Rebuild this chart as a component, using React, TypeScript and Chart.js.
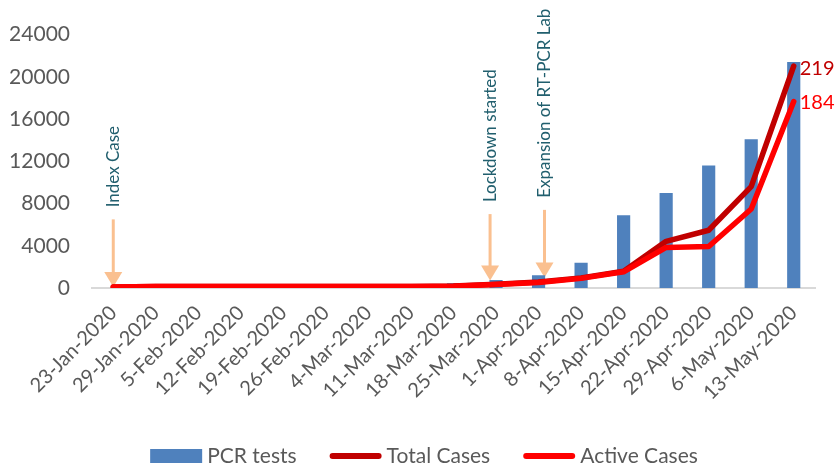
import React, { useEffect, useRef } from 'react';
import { Chart, registerables } from 'chart.js';

Chart.register(...registerables);

const categories = [
  '23-Jan-2020', '29-Jan-2020', '5-Feb-2020', '12-Feb-2020', '19-Feb-2020', '26-Feb-2020',
  '4-Mar-2020', '11-Mar-2020', '18-Mar-2020', '25-Mar-2020', '1-Apr-2020', '8-Apr-2020',
  '15-Apr-2020', '22-Apr-2020', '29-Apr-2020', '6-May-2020', '13-May-2020',
];
const pcrTests = [0, 0, 0, 0, 0, 0, 300, 380, 450, 750, 1200, 2400, 6900, 9000, 11600, 14100, 21400];
const totalCases = [1, 1.5, 1.5, 1.5, 1.5, 1.5, 1.5, 1.5, 2, 3.8, 6, 10, 16.5, 46, 57, 100, 219];
const activeCases = [1, 1.5, 1.5, 1.5, 1.5, 1.5, 1.5, 1.5, 1.8, 3.5, 5.5, 9.5, 16, 40, 41, 78, 184];
const seriesNames = ['PCR tests', 'Total Cases', 'Active Cases'];
const yTickMax = 24000;
const yTickStep = 4000;
const casesAxisMax = 250;

const annotationTexts = ['Index Case', 'Lockdown started', 'Expansion of RT-PCR Lab'];
const annotationPositions = [0, 8.86, 10.14];
const annotationArrowTop = [6500, 7000, 7400];
const annotationArrowTip = [100, 700, 1000];

const FONT = 'Lato, "Open Sans", sans-serif';
const COLORS = {
  bar: '#4F81BD',
  total: '#C00000',
  active: '#FF0000',
  tick: '#595959',
  axis: '#D9D9D9',
  arrow: '#FAC090',
  note: '#215F6E',
};

const annotationPlugin = {
  id: 'annotations',
  beforeDatasetsDraw(chart: any) {
    const { ctx } = chart;
    const x = chart.scales.x;
    const y = chart.scales.y;
    const step = x.getPixelForValue(1) - x.getPixelForValue(0);
    annotationTexts.forEach((t, i) => {
      const pos = annotationPositions[i];
      const base = Math.floor(pos);
      const px = x.getPixelForValue(base) + (pos - base) * step;
      const top = y.getPixelForValue(annotationArrowTop[i]);
      const tip = y.getPixelForValue(annotationArrowTip[i]);
      const headH = 15;
      const headW = 9;
      ctx.save();
      ctx.strokeStyle = COLORS.arrow;
      ctx.fillStyle = COLORS.arrow;
      ctx.lineWidth = 3;
      ctx.beginPath();
      ctx.moveTo(px, top);
      ctx.lineTo(px, tip - headH + 1);
      ctx.stroke();
      ctx.beginPath();
      ctx.moveTo(px - headW, tip - headH);
      ctx.lineTo(px + headW, tip - headH);
      ctx.lineTo(px, tip);
      ctx.closePath();
      ctx.fill();
      ctx.translate(px, top - 12);
      ctx.rotate(-Math.PI / 2);
      ctx.fillStyle = COLORS.note;
      ctx.font = `17px ${FONT}`;
      ctx.textAlign = 'left';
      ctx.textBaseline = 'middle';
      ctx.fillText(t, 0, 0);
      ctx.restore();
    });
  },
};

const endLabelPlugin = {
  id: 'endLabels',
  afterDatasetsDraw(chart: any) {
    const ctx = chart.ctx;
    [1, 2].forEach((di) => {
      const meta = chart.getDatasetMeta(di);
      const ds = chart.data.datasets[di];
      const pt = meta.data[meta.data.length - 1];
      const v = ds.data[ds.data.length - 1];
      ctx.save();
      ctx.font = `20px ${FONT}`;
      ctx.fillStyle = ds.borderColor;
      ctx.textAlign = 'left';
      ctx.textBaseline = 'middle';
      ctx.fillText(String(v), pt.x + 6, pt.y + (di === 1 ? 3 : 1));
      ctx.restore();
    });
  },
};

const legendPlugin = {
  id: 'customLegend',
  afterDraw(chart: any) {
    const ctx = chart.ctx;
    ctx.save();
    ctx.font = `21px ${FONT}`;
    const symW = 52;
    const symGap = 5;
    const itemGap = 33;
    const dsets = chart.data.datasets;
    const widths = dsets.map((ds: any) => symW + symGap + ctx.measureText(ds.label).width);
    const total = widths.reduce((a: number, b: number) => a + b, 0) + itemGap * (widths.length - 1);
    let x = chart.width / 2 - total / 2 + 6;
    const cy = chart.height - 11;
    dsets.forEach((ds: any, i: number) => {
      if (ds.type === 'bar') {
        ctx.fillStyle = ds.backgroundColor;
        ctx.fillRect(x, cy - 7, symW, 14);
      } else {
        ctx.strokeStyle = ds.borderColor;
        ctx.lineWidth = 6;
        ctx.lineCap = 'round';
        ctx.beginPath();
        ctx.moveTo(x + 3, cy);
        ctx.lineTo(x + symW - 3, cy);
        ctx.stroke();
      }
      ctx.fillStyle = COLORS.tick;
      ctx.textAlign = 'left';
      ctx.textBaseline = 'middle';
      ctx.fillText(ds.label, x + symW + symGap, cy);
      x += widths[i] + itemGap;
    });
    ctx.restore();
  },
};

export default function App() {
  const canvasRef = useRef<HTMLCanvasElement | null>(null);

  useEffect(() => {
    if (!canvasRef.current) return;
    const chart = new Chart(canvasRef.current, {
      type: 'bar',
      data: {
        labels: categories,
        datasets: [
          {
            type: 'bar',
            label: seriesNames[0],
            data: pcrTests,
            backgroundColor: COLORS.bar,
            borderWidth: 0,
            categoryPercentage: 1,
            barPercentage: 0.31,
            yAxisID: 'y',
            order: 3,
          },
          {
            type: 'line',
            label: seriesNames[1],
            data: totalCases,
            borderColor: COLORS.total,
            backgroundColor: COLORS.total,
            borderWidth: 5.5,
            pointRadius: 0,
            tension: 0,
            borderJoinStyle: 'round',
            borderCapStyle: 'round',
            yAxisID: 'y1',
            order: 2,
          },
          {
            type: 'line',
            label: seriesNames[2],
            data: activeCases,
            borderColor: COLORS.active,
            backgroundColor: COLORS.active,
            borderWidth: 5.5,
            pointRadius: 0,
            tension: 0,
            borderJoinStyle: 'round',
            borderCapStyle: 'round',
            yAxisID: 'y1',
            order: 1,
          },
        ] as any,
      },
      options: {
        responsive: false,
        animation: false,
        devicePixelRatio: 1,
        layout: { padding: { top: 28, right: 21, bottom: 29, left: 0 } },
        plugins: {
          legend: { display: false },
          tooltip: { enabled: false },
        },
        scales: {
          x: {
            offset: true,
            grid: { display: false, drawTicks: false },
            border: { display: true, color: COLORS.axis, width: 2 },
            ticks: {
              autoSkip: false,
              maxRotation: 45,
              minRotation: 45,
              padding: 13,
              color: COLORS.tick,
              font: { family: FONT, size: 20 },
            },
            afterFit: (s: any) => {
              s.height = 150;
            },
          },
          y: {
            min: 0,
            max: yTickMax,
            grid: { display: false, drawTicks: false },
            border: { display: false },
            ticks: {
              stepSize: yTickStep,
              padding: 22,
              color: COLORS.tick,
              font: { family: FONT, size: 21 },
              callback: (v: any) => String(v),
            },
            afterFit: (s: any) => {
              s.width = 92;
            },
          },
          y1: {
            display: false,
            min: 0,
            max: casesAxisMax,
            position: 'right',
          },
        },
      } as any,
      plugins: [annotationPlugin, endLabelPlugin, legendPlugin],
    });
    return () => chart.destroy();
  }, []);

  return (
    <div style={{ position: 'absolute', left: 0, top: 0, width: 836, height: 467, background: '#fff' }}>
      <canvas ref={canvasRef} width={836} height={467} />
    </div>
  );
}
